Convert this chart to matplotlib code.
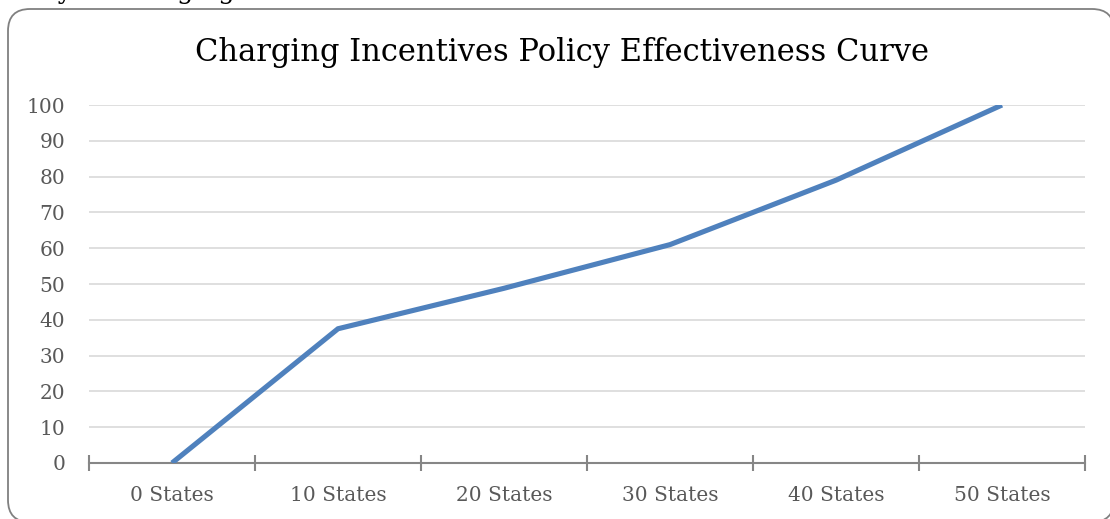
import matplotlib
matplotlib.use("Agg")
import matplotlib.pyplot as plt
from matplotlib.patches import FancyBboxPatch

categories = ["0 States", "10 States", "20 States", "30 States", "40 States", "50 States"]
effectiveness = [0, 37.5, 48.8, 61.0, 79.0, 100]
y_ticks = [0, 10, 20, 30, 40, 50, 60, 70, 80, 90, 100]
title = "Charging Incentives Policy Effectiveness Curve"
heading = "Policy 2: Charging Incentives"

W, H = 1110, 519
plt.rcParams["font.family"] = ["DejaVu Serif"]

fig = plt.figure(figsize=(W / 100, H / 100), dpi=100)
fig.patch.set_facecolor("white")

# heading of the section above the chart frame (runs off the top edge)
fig.text(-5 / W, 1 + 0.5 / H, heading, fontsize=18.5, color="black",
         ha="left", va="baseline")

# rounded chart frame (its right side runs past the edge)
radius = 22 / W
frame = FancyBboxPatch((8 / W, -3 / H), (1114 - 8) / W, (H - 9 + 3) / H,
                       boxstyle=f"round,pad=0,rounding_size={radius}",
                       transform=fig.transFigure, facecolor="white",
                       edgecolor="#808080", linewidth=1.3, mutation_aspect=W / H,
                       zorder=-5)
fig.patches.append(frame)

ax = fig.add_axes([89 / W, (H - 463) / H, (1085 - 89) / W, (463 - 105) / H])
ax.set_facecolor("none")
ax.set_zorder(2)

x = list(range(len(categories)))
ax.plot(x, effectiveness, color="#4f81bd", linewidth=3.7,
        solid_capstyle="butt", solid_joinstyle="miter", zorder=3)

ax.set_xlim(-0.5, len(categories) - 0.5)
ax.set_ylim(0, 100)
ax.set_yticks(y_ticks)
ax.set_yticklabels([str(v) for v in y_ticks])
ax.yaxis.grid(True, color="#d9d9d9", linewidth=1.2)
ax.set_axisbelow(True)

for s in ["top", "right", "left"]:
    ax.spines[s].set_visible(False)
ax.spines["bottom"].set_color("#868686")
ax.spines["bottom"].set_linewidth(1.5)

# category labels centered between cross tick marks on the boundaries
ax.set_xticks([i - 0.5 for i in range(len(categories) + 1)])
ax.set_xticklabels([])
ax.set_xticks(x, minor=True)
ax.set_xticklabels(categories, minor=True)
ax.tick_params(axis="x", which="major", direction="inout", length=11.5,
               width=1.5, color="#868686")
ax.tick_params(axis="x", which="minor", length=0, pad=16.5,
               labelsize=14.5, labelcolor="#595959")
ax.tick_params(axis="y", length=0, pad=17, labelsize=14.5, labelcolor="#595959")

fig.text(562 / W, 1 - 52 / H, title, fontsize=22, color="black",
         ha="center", va="center")

fig.savefig("out.png", dpi=100)
